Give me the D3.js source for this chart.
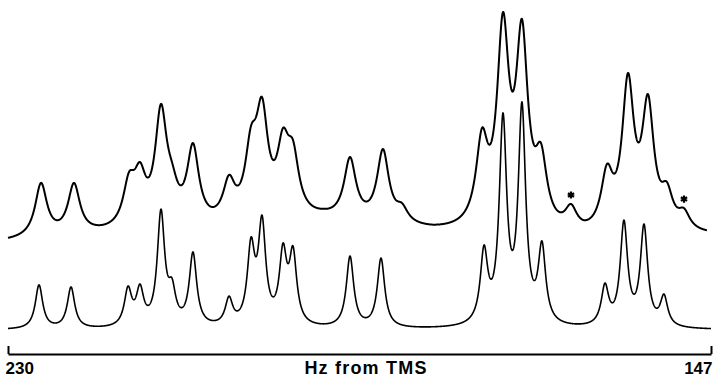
<!DOCTYPE html>
<html><head><meta charset="utf-8">
<script src="https://cdn.jsdelivr.net/npm/d3@7"></script>
<style>body{margin:0;background:#fff}svg{display:block}</style>
</head><body>
<svg id="c" width="713" height="377"></svg>
<script>
// ---- data ----
const axisTicks = [230, 147];
const axisTitle = "Hz from TMS";

// lower trace (calculated spectrum): line positions (Hz) and observed peak heights (arb. units)
const lowerPeaksHz = [226.34, 222.56, 215.83, 214.42, 211.94, 210.64, 208.16, 203.91, 201.31, 200.01,
  197.53, 196.35, 189.62, 185.96, 173.80, 171.56, 169.32, 166.96, 159.52, 157.28, 154.91, 152.55];
const lowerHeights = [19.7, 18.8, 19.2, 20.1, 52.8, 22.7, 34.1, 14.8, 40.6, 50.2,
  38.0, 36.7, 32.3, 31.4, 37.1, 94.8, 99.6, 38.9, 20.5, 48.0, 46.3, 15.7];

// upper trace (observed spectrum)
const upperPeaksHz = [226.10, 222.21, 215.71, 214.42, 211.94, 210.64, 208.16, 203.91, 201.31, 200.01,
  197.53, 196.35, 189.62, 185.73, 183.48, 174.04, 171.56, 169.32, 167.07, 163.53,
  159.28, 156.80, 154.44, 152.20, 150.19];
const upperHeights = [25.8, 25.8, 30.6, 34.9, 60.3, 34.9, 43.2, 29.3, 50.7, 63.3,
  49.8, 44.5, 37.1, 40.6, 17.0, 49.8, 100.4, 97.4, 43.2, 16.6,
  34.1, 73.8, 64.6, 26.2, 14.8];
const upperBaselineHz = [230, 219.73, 206.15, 192.81, 179.82, 162.12, 147.48];
const upperBaseline   = [0.0, 2.4, 4.4, 8.5, 3.6, 0.0, 2.2];

// impurity lines marked with asterisks
const markerHz = [163.53, 150.19];

// ---- model helpers ----
const lowerWidthHz = 0.53, upperWidthHz = 0.85;
function lor(d, g){ return 1/(1+(d/g)*(d/g)); }
function solveAmps(pos, targets, base, g){
  const n = pos.length, a = targets.map((t,i)=>Math.max(0,t-base(pos[i])));
  for(let it=0; it<400; it++){
    for(let i=0;i<n;i++){
      let s = base(pos[i]);
      for(let j=0;j<n;j++) if(j!==i) s += a[j]*lor(pos[i]-pos[j], g);
      a[i] = Math.max(0, targets[i]-s);
    }
  }
  return a;
}
function makeSpectrum(pos, amps, base, g, from, to){
  const pts=[];
  for(let h=from; h>=to-1e-9; h-=0.02){
    let v = base(h);
    for(let j=0;j<pos.length;j++) v += amps[j]*lor(h-pos[j], g);
    pts.push([h, v]);
  }
  return pts;
}

// ---- drawing ----
const svg = d3.select("#c");
const x = d3.scaleLinear().domain([230,147]).range([8,711]);
const yLower = d3.scaleLinear().domain([0,100]).range([330,101]);
const yUpper = d3.scaleLinear().domain([0,100]).range([242,13]);

const lowerBase = () => 0;
const upperBase = d3.scaleLinear().domain(upperBaselineHz).range(upperBaseline).clamp(true);

const lowerAmps = solveAmps(lowerPeaksHz, lowerHeights, lowerBase, lowerWidthHz);
const upperAmps = solveAmps(upperPeaksHz, upperHeights, upperBase, upperWidthHz);

const lowerPts = makeSpectrum(lowerPeaksHz, lowerAmps, lowerBase, lowerWidthHz, 230, 147);
const upperPts = makeSpectrum(upperPeaksHz, upperAmps, upperBase, upperWidthHz, 230, 147.48);

svg.append("path").datum(upperPts)
  .attr("fill","none").attr("stroke","#000").attr("stroke-width",2).attr("stroke-linejoin","round")
  .attr("d", d3.line().x(d=>x(d[0])).y(d=>yUpper(d[1])));
svg.append("path").datum(lowerPts)
  .attr("fill","none").attr("stroke","#000").attr("stroke-width",1.6).attr("stroke-linejoin","round")
  .attr("d", d3.line().x(d=>x(d[0])).y(d=>yLower(d[1])));

// asterisks
function upperAt(h){
  let v = upperBase(h);
  for(let j=0;j<upperPeaksHz.length;j++) v += upperAmps[j]*lor(h-upperPeaksHz[j], upperWidthHz);
  return v;
}
svg.selectAll("path.star").data(markerHz).join("path").attr("class","star")
  .attr("transform", h=>`translate(${x(h)},${yUpper(upperAt(h))-9})`)
  .attr("d", d3.symbol(d3.symbolAsterisk, 36))
  .attr("fill","none").attr("stroke","#000").attr("stroke-width",2.2);

// axis
const axisG = svg.append("g").attr("transform","translate(0,354)");
axisG.call(d3.axisBottom(x).tickValues(axisTicks).tickSize(-8).tickSizeOuter(0).tickFormat(""))
axisG.select(".domain").attr("stroke-width",2.2);
axisG.selectAll(".tick line").attr("stroke-width",2);
axisG.selectAll(".tick").each(function(d){
  d3.select(this).append("text")
    .attr("x", d===230 ? -3 : 1).attr("y", 20)
    .attr("text-anchor", d===230 ? "start" : "end")
    .attr("fill","#000").attr("font-family","'Liberation Sans', Arial, sans-serif")
    .attr("font-weight","bold").attr("font-size",17).text(d);
});
svg.append("text").attr("x", 366).attr("y", 374).attr("text-anchor","middle")
  .attr("font-family","'Liberation Sans', Arial, sans-serif").attr("font-weight","bold")
  .attr("font-size",18).attr("letter-spacing",1.2).text(axisTitle);
</script>
</body></html>
